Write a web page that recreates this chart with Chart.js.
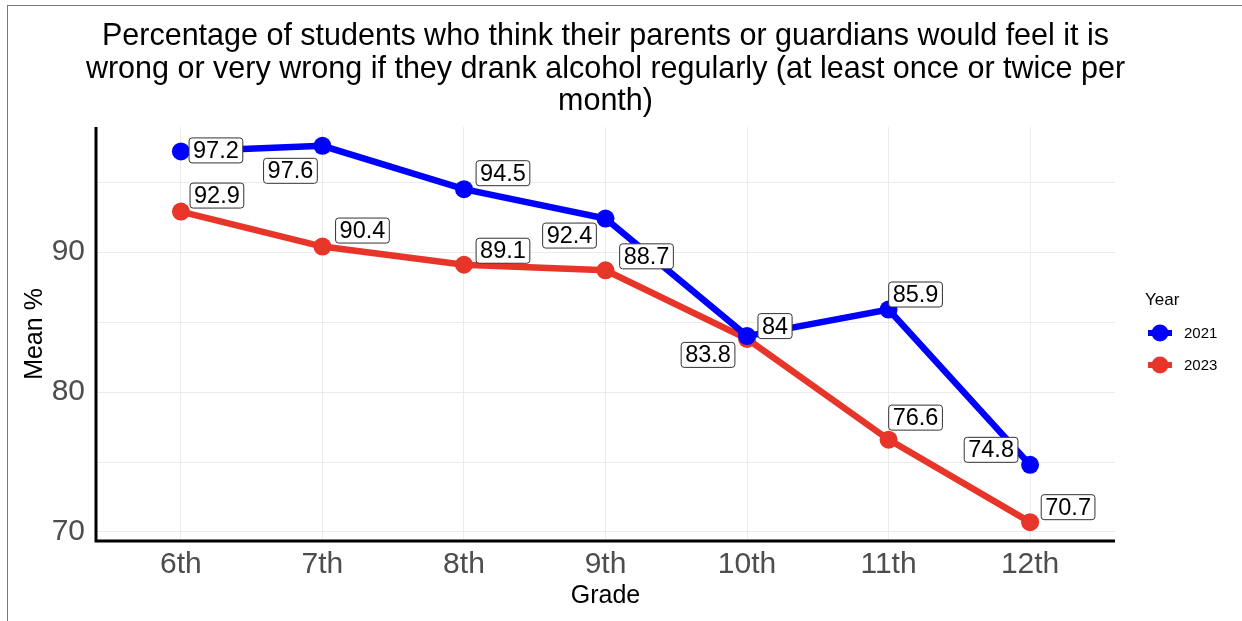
<!DOCTYPE html>
<html>
<head>
<meta charset="utf-8">
<script src="https://cdn.jsdelivr.net/npm/chart.js@4/dist/chart.umd.min.js"></script>
<style>
  html, body { margin: 0; padding: 0; background: #fff; }
  #wrap { position: relative; width: 1242px; height: 621px; }
  #frame { position: absolute; left: 7px; top: 5px; right: 0; bottom: 0;
           border-left: 1.5px solid #777; border-top: 1.5px solid #777; pointer-events: none; }
  canvas { position: absolute; left: 0; top: 0; }
</style>
</head>
<body>
<div id="wrap">
  <canvas id="chart" width="1242" height="621"></canvas>
  <div id="frame"></div>
</div>
<script>
// data
let grades = ["6th", "7th", "8th", "9th", "10th", "11th", "12th"];
let years = ["2021", "2023"];
let mean2021 = [97.2, 97.6, 94.5, 92.4, 84, 85.9, 74.8];
let mean2023 = [92.9, 90.4, 89.1, 88.7, 83.8, 76.6, 70.7];
let yTicks = [70, 80, 90];

let titleLines = [
    "Percentage of students who think their parents or guardians would feel it is",
    "wrong or very wrong if they drank alcohol regularly (at least once or twice per",
    "month)"
];

let colors = ["#0000ff", "#e8352a"];

// label nudges in px (like ggrepel placement)
let nudge2021 = [[35, -1], [-32, 25], [39, -16], [-36, 17], [28, -10], [27, -15], [-39, -15]];
let nudge2023 = [[36, -16], [40, -16], [39, -14], [41, -14], [-39, 16], [27, -22], [38, -15]];

const FONT = "'Liberation Sans', Arial, Helvetica, sans-serif";

function toPoints(values) {
    return values.map((v, i) => ({ x: i, y: v }));
}

const overlay = {
    id: "overlay",
    afterDraw(chart) {
        let ctx = chart.ctx;
        let area = chart.chartArea;
        let xs = chart.scales.x, ys = chart.scales.y;

        // axis lines
        ctx.save();
        ctx.strokeStyle = "#000";
        ctx.lineWidth = 3;
        ctx.beginPath();
        ctx.moveTo(area.left, area.top);
        ctx.lineTo(area.left, area.bottom);
        ctx.lineTo(area.right, area.bottom);
        ctx.stroke();

        // title
        ctx.fillStyle = "#000";
        ctx.font = "30.5px " + FONT;
        ctx.textAlign = "center";
        ctx.textBaseline = "alphabetic";
        let cx = (area.left + area.right) / 2;
        titleLines.forEach((t, i) => ctx.fillText(t, cx, 45 + i * 32.5));

        // axis titles
        ctx.textBaseline = "middle";
        ctx.font = "25px " + FONT;
        ctx.fillText("Grade", cx, 596);
        ctx.save();
        ctx.translate(35, (area.top + area.bottom) / 2);
        ctx.rotate(-Math.PI / 2);
        ctx.fillText("Mean %", 0, 0);
        ctx.restore();

        // value labels
        ctx.font = "23.5px " + FONT;
        [[mean2021, nudge2021], [mean2023, nudge2023]].forEach(([vals, nud]) => {
            vals.forEach((v, i) => {
                let px = xs.getPixelForValue(i) + nud[i][0];
                let py = ys.getPixelForValue(v) + nud[i][1];
                let txt = String(v);
                let w = ctx.measureText(txt).width + 8;
                let h = 25;
                ctx.fillStyle = "#fff";
                ctx.strokeStyle = "#333";
                ctx.lineWidth = 1;
                ctx.beginPath();
                ctx.roundRect(px - w / 2, py - h / 2, w, h, 3);
                ctx.fill();
                ctx.stroke();
                ctx.fillStyle = "#000";
                ctx.fillText(txt, px, py + 1);
            });
        });

        // legend
        ctx.textAlign = "left";
        ctx.font = "17px " + FONT;
        ctx.fillStyle = "#000";
        ctx.fillText("Year", 1145, 300);
        ctx.font = "15px " + FONT;
        years.forEach((y, i) => {
            let ly = 333 + i * 32;
            ctx.strokeStyle = colors[i];
            ctx.lineWidth = 6;
            ctx.beginPath();
            ctx.moveTo(1148, ly);
            ctx.lineTo(1172, ly);
            ctx.stroke();
            ctx.fillStyle = colors[i];
            ctx.beginPath();
            ctx.arc(1160, ly, 8.5, 0, Math.PI * 2);
            ctx.fill();
            ctx.fillStyle = "#000";
            ctx.fillText(y, 1184, ly + 1);
        });
        ctx.restore();
    }
};

new Chart(document.getElementById("chart"), {
    type: "line",
    data: {
        datasets: [
            { label: years[0], data: toPoints(mean2021), borderColor: colors[0], backgroundColor: colors[0],
              borderWidth: 6.5, pointRadius: 9, pointBorderWidth: 0, pointHoverRadius: 9, fill: false },
            { label: years[1], data: toPoints(mean2023), borderColor: colors[1], backgroundColor: colors[1],
              borderWidth: 6.5, pointRadius: 9, pointBorderWidth: 0, pointHoverRadius: 9, fill: false }
        ]
    },
    options: {
        responsive: false,
        animation: false,
        layout: { padding: { top: 127, right: 127, left: 0, bottom: 0 } },
        plugins: { legend: { display: false }, tooltip: { enabled: false }, title: { display: false } },
        scales: {
            x: {
                type: "linear",
                min: -0.6,
                max: 6.6,
                afterBuildTicks: s => { s.ticks = grades.map((g, i) => ({ value: i })); },
                afterFit: s => { s.height = 80; },
                grid: { color: "#ebebeb", lineWidth: 1, drawTicks: false },
                border: { display: false },
                ticks: {
                    callback: v => grades[v],
                    color: "#4d4d4d",
                    font: { family: FONT, size: 30 },
                    padding: 6,
                    maxRotation: 0
                }
            },
            y: {
                min: 69.355,
                max: 98.945,
                afterBuildTicks: s => {
                    let t = [];
                    for (let v = 70; v <= 95; v += 5) t.push({ value: v });
                    s.ticks = t;
                },
                afterFit: s => { s.width = 96; },
                grid: { color: "#ebebeb", lineWidth: 1, drawTicks: false },
                border: { display: false },
                ticks: {
                    callback: v => yTicks.includes(v) ? String(v) : "",
                    color: "#4d4d4d",
                    font: { family: FONT, size: 30 },
                    padding: 11
                }
            }
        }
    },
    plugins: [overlay]
});
</script>
</body>
</html>
